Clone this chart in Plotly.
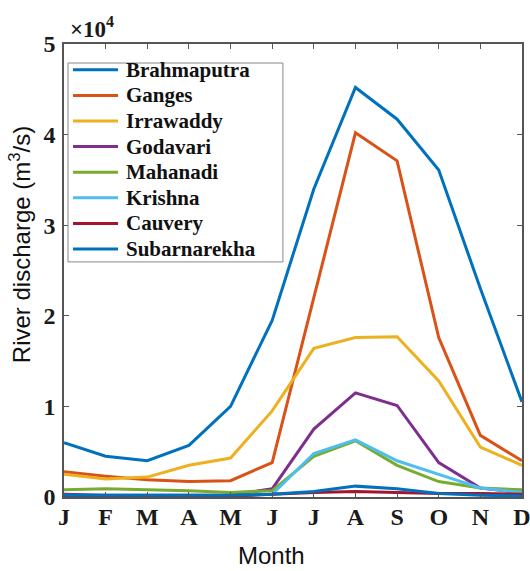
import plotly.graph_objects as go

months = ["J", "F", "M", "A", "M", "J", "J", "A", "S", "O", "N", "D"]
rivers = ["Brahmaputra", "Ganges", "Irrawaddy", "Godavari", "Mahanadi", "Krishna", "Cauvery", "Subarnarekha"]
colors = ["#0072BD", "#D95319", "#EDB120", "#7E2F8E", "#77AC30", "#4DBEEE", "#A2142F", "#0072BD"]

brahmaputra = [6000, 4500, 4000, 5700, 10000, 19500, 34000, 45200, 41700, 36100, 23000, 10500]
ganges = [2800, 2300, 1900, 1700, 1800, 3800, 22000, 40200, 37100, 17600, 6800, 4000]
irrawaddy = [2500, 2000, 2200, 3500, 4300, 9500, 16400, 17600, 17700, 12800, 5500, 3500]
godavari = [300, 200, 200, 200, 200, 900, 7500, 11500, 10100, 3800, 1000, 500]
mahanadi = [800, 900, 800, 700, 500, 700, 4500, 6200, 3500, 1700, 1000, 800]
krishna = [100, 100, 100, 100, 100, 300, 4800, 6300, 4000, 2500, 1000, 500]
cauvery = [100, 100, 100, 100, 100, 300, 500, 600, 500, 400, 400, 300]
subarnarekha = [200, 200, 200, 200, 200, 300, 600, 1200, 900, 400, 200, 100]

series = [brahmaputra, ganges, irrawaddy, godavari, mahanadi, krishna, cauvery, subarnarekha]

y_tickvals = [0, 10000, 20000, 30000, 40000, 50000]
y_ticktext = ["0", "1", "2", "3", "4", "5"]

fig = go.Figure()
x_idx = list(range(len(months)))
for name, vals, c in zip(rivers, series, colors):
    fig.add_trace(go.Scatter(x=x_idx, y=vals, mode="lines", name=name,
                             line=dict(color=c, width=3), showlegend=False))

tickfont = dict(family="Liberation Serif", size=24, color="#1a1a1a", weight="bold")
legfont = dict(family="Liberation Serif", size=21, color="#111111", weight="bold")

# Legend box (paper coordinates of the plot area)
shapes = [dict(type="rect", xref="paper", yref="paper", x0=0.0087, x1=0.478,
               y0=0.519, y1=0.958, line=dict(color="#888888", width=1),
               fillcolor="white", layer="above")]
annotations = []
row0, rowstep = 0.943, 0.0565
for i, (name, c) in enumerate(zip(rivers, colors)):
    yy = row0 - i * rowstep
    shapes.append(dict(type="line", xref="paper", yref="paper", x0=0.0197, x1=0.118,
                       y0=yy, y1=yy, line=dict(color=c, width=3), layer="above"))
    annotations.append(dict(text=name, xref="paper", yref="paper", x=0.131, y=yy,
                            xanchor="left", yanchor="middle", showarrow=False,
                            font=legfont))

annotations += [
    dict(text="×10<sup>4</sup>", xref="paper", yref="paper", x=0.009, y=1.0,
         xanchor="left", yanchor="bottom", showarrow=False,
         font=dict(family="Liberation Serif", size=23, color="#1a1a1a", weight="bold")),
    dict(text="Month", xref="paper", yref="paper", x=0.452, y=-0.129,
         xanchor="center", yanchor="middle", showarrow=False,
         font=dict(family="Liberation Sans", size=24, color="#111111")),
    dict(text="River discharge (m<sup>3</sup>/s)", xref="paper", yref="paper",
         x=-0.096, y=0.556, xanchor="center", yanchor="middle", textangle=-90,
         showarrow=False,
         font=dict(family="Liberation Sans", size=24, color="#111111")),
]

fig.update_layout(
    width=530, height=571,
    margin=dict(l=64, r=8, t=44, b=74, autoexpand=False),
    plot_bgcolor="white", paper_bgcolor="white",
    showlegend=False,
    xaxis=dict(
        range=[0, 11], tickvals=x_idx, ticktext=months,
        showgrid=False, zeroline=False, automargin=False,
        showline=True, linecolor="#555555", linewidth=1.5, mirror="ticks",
        ticks="inside", ticklen=5, tickcolor="#555555",
        tickfont=tickfont, ticklabeloverflow="allow", ticklabelstandoff=-3,
    ),
    yaxis=dict(
        range=[0, 50000], tickvals=y_tickvals, ticktext=y_ticktext,
        showgrid=False, zeroline=False, automargin=False,
        showline=True, linecolor="#555555", linewidth=1.5, mirror="ticks",
        ticks="inside", ticklen=5, tickcolor="#555555",
        tickfont=tickfont, ticklabelstandoff=2,
    ),
    shapes=shapes,
    annotations=annotations,
)

fig.write_html("out.html", config={"displayModeBar": False},
               post_script="document.body.style.margin='0';document.body.style.overflow='hidden';")
